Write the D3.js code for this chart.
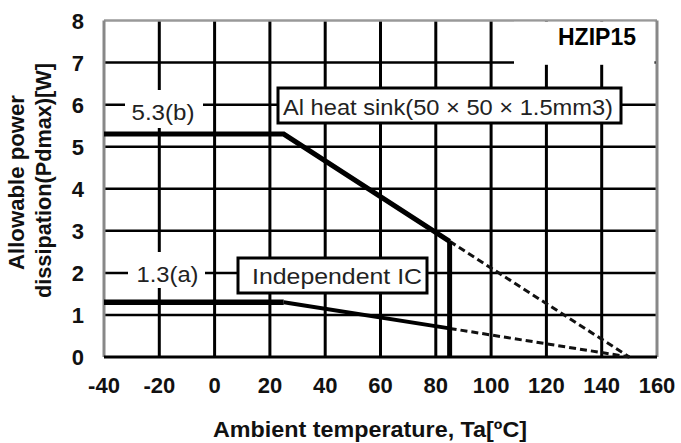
<!DOCTYPE html>
<html><head><meta charset="utf-8">
<script src="https://cdn.jsdelivr.net/npm/d3@7/dist/d3.min.js"></script>
<style>body{margin:0;background:#fff}svg{display:block}text{font-family:"Liberation Sans",Arial,sans-serif}</style>
</head><body><svg id="c" width="681" height="443"></svg>
<script>
// data
const xTicks = [-40, -20, 0, 20, 40, 60, 80, 100, 120, 140, 160];
const yTicks = [0, 1, 2, 3, 4, 5, 6, 7, 8];
const tempB = [-40, 25, 85];
const powerB = [5.3, 5.3, 2.75];
const tempBDash = [85, 150];
const powerBDash = [2.75, 0];
const tempAFlat = [-40, 25];
const powerAFlat = [1.3, 1.3];
const tempASlope = [25, 85];
const powerASlope = [1.3, 0.68];
const tempADash = [85, 150];
const powerADash = [0.68, 0];
const cutoffT = [85, 85];
const cutoffP = [0, 2.75];
const labelB = "5.3(b)", labelA = "1.3(a)";
const boxB = "Al heat sink(50 × 50 × 1.5mm3)";
const boxA = "Independent  IC";
const title = "HZIP15";
const xTitle = "Ambient  temperature, Ta[ºC]";
const yTitle = ["Allowable power", "dissipation(Pdmax)[W]"];

const svg = d3.select("#c");
const x = d3.scaleLinear().domain([-40, 160]).range([104, 657]);
const y = d3.scaleLinear().domain([0, 8]).range([357, 20.5]);

// grid
const g = svg.append("g");
g.selectAll(".vg").data(xTicks.slice(1, -1)).join("line")
  .attr("x1", d => x(d)).attr("x2", d => x(d)).attr("y1", y(8)).attr("y2", y(0))
  .attr("stroke", "#000").attr("stroke-width", 3);
g.selectAll(".hg").data(yTicks.slice(1, -1)).join("line")
  .attr("x1", x(-40)).attr("x2", x(160)).attr("y1", d => y(d)).attr("y2", d => y(d))
  .attr("stroke", "#000").attr("stroke-width", 2.5);
// frame
g.append("line").attr("x1", x(-40)).attr("x2", x(160)).attr("y1", y(8)).attr("y2", y(8)).attr("stroke", "#999").attr("stroke-width", 2.5);
g.append("line").attr("x1", x(-40)).attr("x2", x(-40)).attr("y1", y(8)).attr("y2", y(0)).attr("stroke", "#888").attr("stroke-width", 3);
g.append("line").attr("x1", x(160)).attr("x2", x(160)).attr("y1", y(8)).attr("y2", y(0)).attr("stroke", "#888").attr("stroke-width", 3);
g.append("line").attr("x1", x(-40)).attr("x2", x(160)).attr("y1", y(0)).attr("y2", y(0)).attr("stroke", "#000").attr("stroke-width", 3);

// HZIP15 white area
svg.append("rect").attr("x", 514).attr("y", 21.8).attr("width", 140.5).attr("height", 43).attr("fill", "#fff");
svg.append("text").attr("x", 597).attr("y", 45).attr("text-anchor", "middle")
  .attr("font-size", 23).attr("font-weight", "bold").text(title);

// value labels with white background
svg.append("rect").attr("x", 125).attr("y", 90).attr("width", 78).attr("height", 38).attr("fill", "#fff");
svg.append("text").attr("x", 163).attr("y", 120).attr("text-anchor", "middle")
  .attr("font-size", 22).attr("fill", "#222").attr("textLength", 63).attr("lengthAdjust", "spacingAndGlyphs").text(labelB);
svg.append("rect").attr("x", 128).attr("y", 252).attr("width", 77).attr("height", 36).attr("fill", "#fff");
svg.append("text").attr("x", 167.5).attr("y", 282).attr("text-anchor", "middle")
  .attr("font-size", 22).attr("fill", "#222").attr("textLength", 62).attr("lengthAdjust", "spacingAndGlyphs").text(labelA);

// curves
const line = d3.line().x(d => x(d[0])).y(d => y(d[1]));
const zip = (a, b) => a.map((v, i) => [v, b[i]]);
svg.append("path").attr("d", line(zip(tempB, powerB))).attr("fill", "none").attr("stroke", "#000").attr("stroke-width", 5);
svg.append("path").attr("d", line(zip(tempAFlat, powerAFlat))).attr("fill", "none").attr("stroke", "#000").attr("stroke-width", 5.5);
svg.append("path").attr("d", line(zip(tempASlope, powerASlope))).attr("fill", "none").attr("stroke", "#000").attr("stroke-width", 4);
svg.append("path").attr("d", line(zip(tempBDash, powerBDash))).attr("fill", "none").attr("stroke", "#111").attr("stroke-width", 3).attr("stroke-dasharray", "7,4");
svg.append("path").attr("d", line(zip(tempADash, powerADash))).attr("fill", "none").attr("stroke", "#111").attr("stroke-width", 3).attr("stroke-dasharray", "7,4");
svg.append("path").attr("d", line(zip(cutoffT, cutoffP))).attr("fill", "none").attr("stroke", "#000").attr("stroke-width", 5);

// boxed labels
svg.append("rect").attr("x", 278).attr("y", 88).attr("width", 343).attr("height", 35).attr("fill", "#fff").attr("stroke", "#000").attr("stroke-width", 3);
svg.append("text").attr("x", 283).attr("y", 115).attr("font-size", 22).attr("fill", "#222")
  .attr("textLength", 330).attr("lengthAdjust", "spacingAndGlyphs").text(boxB);
svg.append("rect").attr("x", 238).attr("y", 258).attr("width", 189).attr("height", 35).attr("fill", "#fff").attr("stroke", "#000").attr("stroke-width", 3);
svg.append("text").attr("x", 252).attr("y", 284).attr("font-size", 22).attr("fill", "#222")
  .attr("textLength", 170).attr("lengthAdjust", "spacingAndGlyphs").text(boxA);

// tick labels
svg.selectAll(".xt").data(xTicks).join("text")
  .attr("x", d => x(d)).attr("y", 393).attr("text-anchor", "middle")
  .attr("font-size", 22).attr("font-weight", "bold").attr("fill", "#111").text(d => d);
svg.selectAll(".yt").data(yTicks).join("text")
  .attr("x", 84).attr("y", d => y(d) + 8).attr("text-anchor", "end")
  .attr("font-size", 22).attr("font-weight", "bold").attr("fill", "#111").text(d => d);

// axis titles
svg.append("text").attr("x", 370).attr("y", 437).attr("text-anchor", "middle")
  .attr("font-size", 22).attr("font-weight", "bold").attr("fill", "#111")
  .attr("textLength", 314).attr("lengthAdjust", "spacingAndGlyphs").text(xTitle);
svg.append("text").attr("transform", "translate(24,182.5) rotate(-90)").attr("text-anchor", "middle")
  .attr("font-size", 22).attr("font-weight", "bold").attr("fill", "#111")
  .attr("textLength", 175).attr("lengthAdjust", "spacingAndGlyphs").text(yTitle[0]);
svg.append("text").attr("transform", "translate(51,180.5) rotate(-90)").attr("text-anchor", "middle")
  .attr("font-size", 22).attr("font-weight", "bold").attr("fill", "#111")
  .attr("textLength", 235).attr("lengthAdjust", "spacingAndGlyphs").text(yTitle[1]);
</script></body></html>
